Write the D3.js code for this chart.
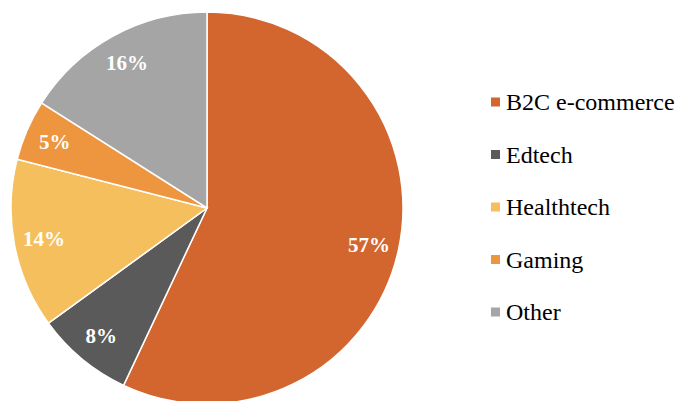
<!DOCTYPE html>
<html>
<head>
<meta charset="utf-8">
<script src="https://cdn.jsdelivr.net/npm/d3@7"></script>
<style>
  body { margin: 0; background: #fff; }
  svg { display: block; }
</style>
</head>
<body>
<div id="chart"></div>
<script>
// sector shares, clockwise from 12 o'clock
var categories = ["B2C e-commerce", "Edtech", "Healthtech", "Gaming", "Other"]
var shares = [57, 8, 14, 5, 16]
var colours = ["#D2662E", "#5A5A5A", "#F5BF5E", "#EE9540", "#A5A5A5"]

var width = 680,
    height = 401,
    cx = 207,
    cy = 208,
    radius = 196

var svg = d3.select("#chart")
    .append("svg")
    .attr("width", width)
    .attr("height", height)

var data = categories.map(function(c, i) {
  return { name: c, value: shares[i] }
})

var colorScale = d3.scaleOrdinal()
    .domain(categories)
    .range(colours)

var pie = d3.pie()
    .sort(null)
    .value(function(d) { return d.value })

var arc = d3.arc()
    .innerRadius(0)
    .outerRadius(radius)

var labelArc = d3.arc()
    .innerRadius(166)
    .outerRadius(166)

var g = svg.append("g")
    .attr("transform", "translate(" + cx + "," + cy + ")")

var slices = pie(data)

g.selectAll("path")
    .data(slices)
    .enter().append("path")
    .attr("d", arc)
    .attr("fill", function(d) { return colorScale(d.data.name) })
    .attr("stroke", "#fff")
    .attr("stroke-width", 1.5)

g.selectAll("text")
    .data(slices)
    .enter().append("text")
    .attr("transform", function(d) { return "translate(" + labelArc.centroid(d) + ")" })
    .attr("text-anchor", "middle")
    .attr("dy", "0.35em")
    .attr("font-family", "'Liberation Serif', 'Times New Roman', serif")
    .attr("font-weight", "bold")
    .attr("font-size", "21px")
    .attr("fill", "#fff")
    .text(function(d) { return d.data.value + "%" })

// legend
var legendY = d3.scalePoint()
    .domain(categories)
    .range([102, 312])

var legend = svg.selectAll(".legend")
    .data(categories)
    .enter().append("g")
    .attr("class", "legend")
    .attr("transform", function(d) { return "translate(491," + legendY(d) + ")" })

legend.append("rect")
    .attr("x", 0)
    .attr("y", -4.5)
    .attr("width", 9)
    .attr("height", 9)
    .attr("fill", function(d) { return colorScale(d) })

legend.append("text")
    .attr("x", 15)
    .attr("dy", "0.35em")
    .attr("font-family", "'Liberation Serif', 'Times New Roman', serif")
    .attr("font-size", "24px")
    .attr("fill", "#000")
    .text(function(d) { return d })
</script>
</body>
</html>
